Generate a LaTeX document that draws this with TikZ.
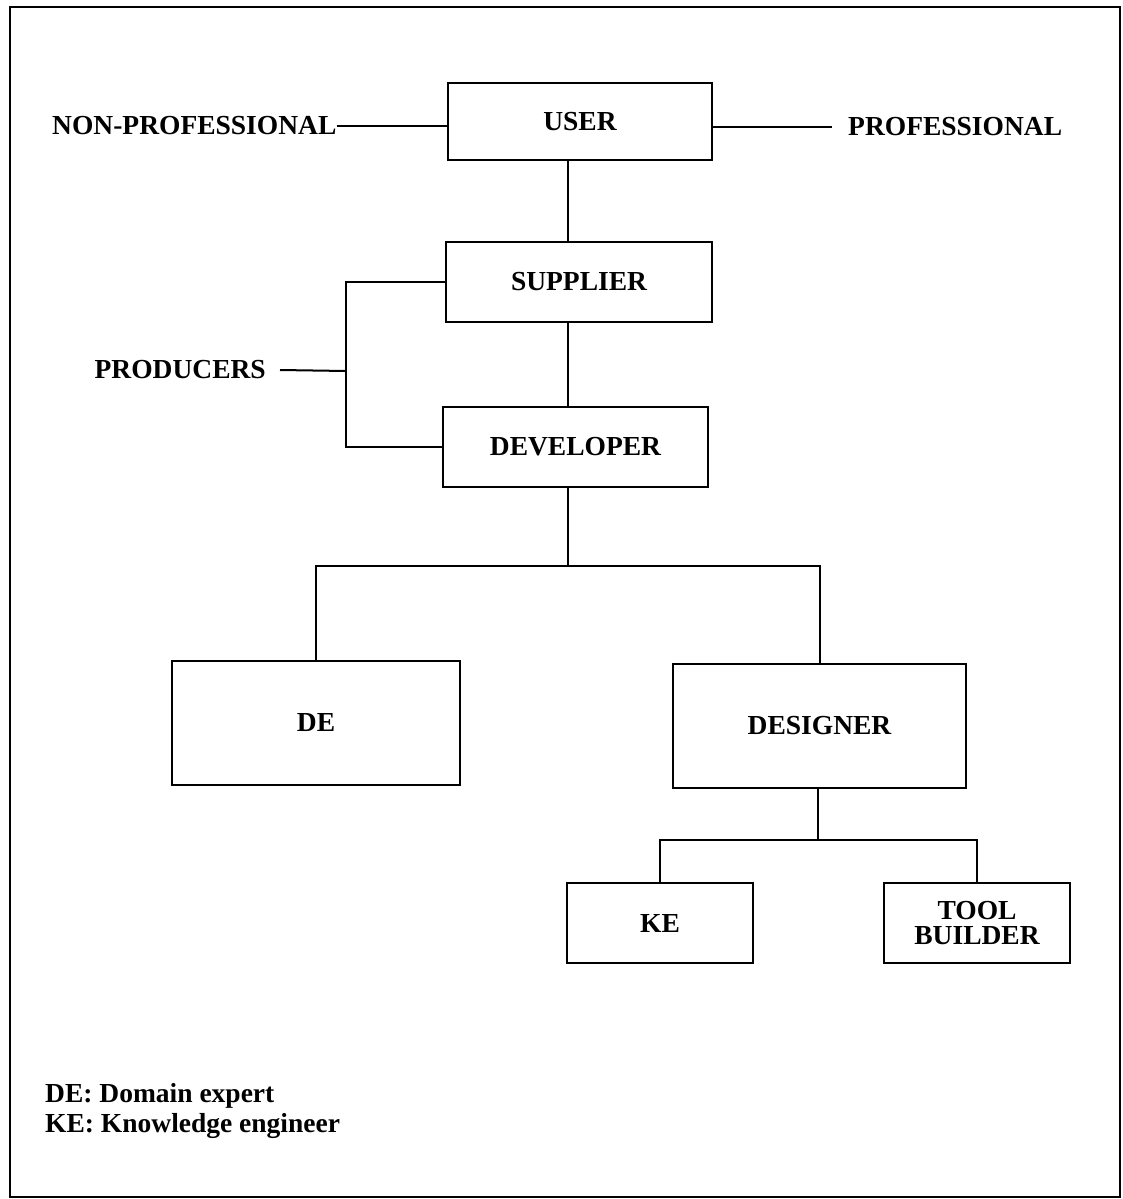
\documentclass[tikz,border=0pt]{standalone}
\usepackage{fontspec}
\setmainfont{Liberation Serif}
\begin{document}
\begin{tikzpicture}[x=1pt,y=-1pt,
  box/.style={draw, line width=2.2pt, inner sep=0pt, align=center,
    font=\bfseries\fontsize{27.5}{25}\selectfont},
  lbl/.style={inner sep=0pt, font=\bfseries\fontsize{27.5}{30}\selectfont},
  conn/.style={line width=2pt}]
\useasboundingbox (0,0) rectangle (1122,1199);
\draw[line width=2.5pt] (10,7) rectangle (1120,1197);

% boxes
\node[box, minimum width=264pt, minimum height=77pt] (user) at (580,121.5) {USER};
\node[box, minimum width=266pt, minimum height=80pt] (supplier) at (579,282) {SUPPLIER};
\node[box, minimum width=265pt, minimum height=80pt] (developer) at (575.5,447) {DEVELOPER};
\node[box, minimum width=288pt, minimum height=124pt] (de) at (316,723) {DE};
\node[box, minimum width=293pt, minimum height=124pt] (designer) at (819.5,726) {DESIGNER};
\node[box, minimum width=186pt, minimum height=80pt] (ke) at (660,923) {KE};
\node[box, minimum width=186pt, minimum height=80pt] (tb) at (977,923) {TOOL\\BUILDER};

% labels
\node[lbl, anchor=west] (np) at (52,126) {NON-PROFESSIONAL};
\node[lbl, anchor=west] (pro) at (848,127) {PROFESSIONAL};
\node[lbl, anchor=east] (prod) at (266,370) {PRODUCERS};
\node[lbl, anchor=base west] (leg1) at (45,1102) {DE: Domain expert};
\node[lbl, anchor=base west] (leg2) at (45,1132) {KE: Knowledge engineer};

% junction points
\coordinate (bx) at (346,371);
\coordinate (j1) at (568,566);
\coordinate (j2) at (818,840);

% connectors
\draw[conn] (np.east) -- (np.east -| user.west);
\draw[conn] (user.east |- pro.west) -- ([xshift=-16pt]pro.west);
\draw[conn] ([xshift=-12pt]user.south) -- ([xshift=-12pt]user.south |- supplier.north);
\draw[conn] ([xshift=-11pt]supplier.south) -- ([xshift=-11pt]supplier.south |- developer.north);
\draw[conn] (supplier.west) -| (bx) |- (developer.west);
\draw[conn] ([xshift=14pt]prod.east) -- (bx);
\draw[conn] ([xshift=-7.5pt]developer.south) -- (j1);
\draw[conn] (de.north) |- (j1) -| (designer.north);
\draw[conn] ([xshift=-1.5pt]designer.south) -- (j2);
\draw[conn] (ke.north) |- (j2) -| (tb.north);
\end{tikzpicture}
\end{document}
